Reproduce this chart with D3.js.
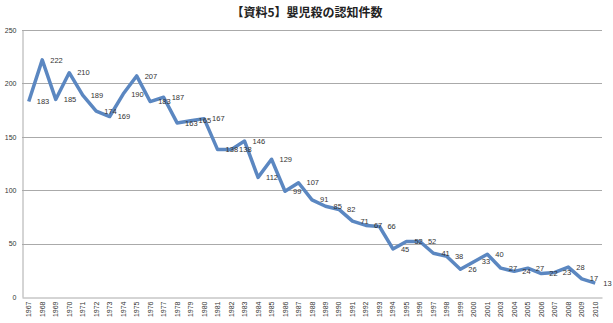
<!DOCTYPE html>
<html><head><meta charset="utf-8">
<script src="https://cdn.jsdelivr.net/npm/d3@7"></script>
<style>body{margin:0;background:#fff}svg{display:block}</style>
</head><body>
<script>
const years = ["1967","1968","1969","1970","1971","1972","1973","1974","1975","1976","1977","1978","1979","1980","1981","1982","1983","1984","1985","1986","1987","1988","1989","1990","1991","1992","1993","1994","1995","1996","1997","1998","1999","2000","2001","2003","2004","2005","2006","2007","2008","2009","2010"];
const counts = [183,222,185,210,189,174,169,190,207,183,187,163,165,167,138,138,146,112,129,99,107,91,85,82,71,67,66,45,52,52,41,38,26,33,40,27,24,27,22,23,28,17,13];
const yTicks = [0,50,100,150,200,250];
const title = "【資料5】嬰児殺の認知件数";

const W = 613, H = 323;
const m = {left: 22, right: 11, top: 30, bottom: 26};
const svg = d3.select("body").append("svg").attr("width", W).attr("height", H);
const x = d3.scaleBand().domain(years).range([m.left, W - m.right]);
const y = d3.scaleLinear().domain([0, 250]).range([H - m.bottom, m.top]);

svg.append("text").attr("x", 307).attr("y", 17).attr("text-anchor", "middle")
  .attr("font-family", "Noto Sans CJK JP").attr("font-weight", "bold").attr("font-size", 12)
  .attr("fill", "#222").text(title);

// gridlines
svg.append("g").selectAll("line").data(yTicks.filter(d => d > 0)).join("line")
  .attr("x1", m.left).attr("x2", W - m.right)
  .attr("y1", d => Math.round(y(d)) + 0.5).attr("y2", d => Math.round(y(d)) + 0.5)
  .attr("stroke", "#aaa").attr("stroke-width", 1);

// y axis
const ya = svg.append("g").attr("transform", `translate(${m.left + 0.5},0)`)
  .call(d3.axisLeft(y).tickValues(yTicks).tickSize(0).tickPadding(6));
ya.select(".domain").attr("stroke", "#aaa");
ya.selectAll("text").attr("font-family", "Liberation Sans").attr("font-size", 7).attr("fill", "#333");

// x axis
const xa = svg.append("g").attr("transform", `translate(0,${Math.round(y(0)) + 0.5})`)
  .call(d3.axisBottom(x).tickSize(0).tickPadding(0));
xa.select(".domain").attr("stroke", "#aaa");
xa.selectAll("text").attr("font-family", "Liberation Sans").attr("font-size", 7).attr("fill", "#333")
  .attr("text-anchor", "end").attr("dy", null)
  .attr("transform", "translate(2.5,4) rotate(-90)").attr("dominant-baseline", "auto");

// line
const line = d3.line().x((d, i) => x(years[i]) + x.bandwidth() / 2).y(d => y(d));
svg.append("path").datum(counts).attr("d", line).attr("fill", "none")
  .attr("stroke", "#5b87c1").attr("stroke-width", 3.5).attr("stroke-linejoin", "round");

// labels
svg.append("g").selectAll("text").data(counts).join("text")
  .attr("x", (d, i) => x(years[i]) + x.bandwidth() / 2 + 8)
  .attr("y", d => y(d)).attr("dy", "0.35em")
  .attr("font-family", "Liberation Sans").attr("font-size", 7.5).attr("fill", "#333")
  .text(d => d);
</script>
</body></html>
